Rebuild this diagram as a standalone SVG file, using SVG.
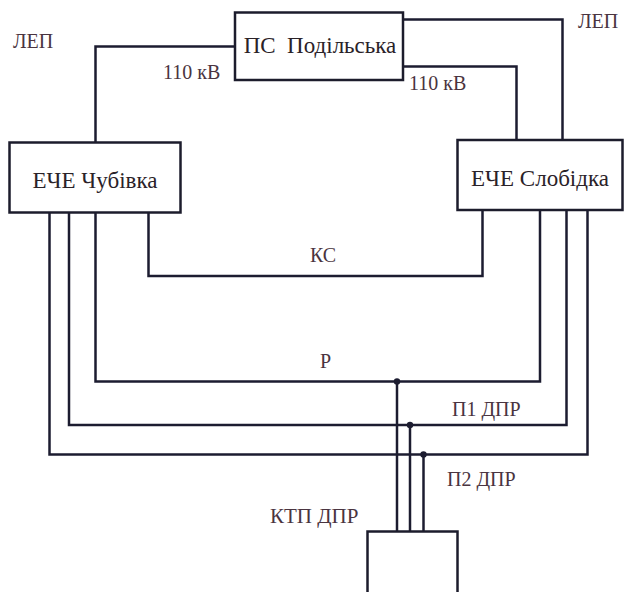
<svg xmlns="http://www.w3.org/2000/svg" width="624" height="592" viewBox="0 0 624 592">
<style>
.box{fill:#ffffff;stroke:#1c1c2c;stroke-width:2.5}
.ln{fill:none;stroke:#1c1c30;stroke-width:2.5;stroke-linejoin:miter}
.dot{fill:#1c1c30}
</style>
<rect x="0" y="0" width="624" height="592" fill="#ffffff"/>
<g id="connectors">
<path class="ln" d="M235,46.5 H95.5 V142.5"/>
<path class="ln" d="M403,19.5 H562.5 V140"/>
<path class="ln" d="M403,66.5 H516.5 V140"/>
<path class="ln" d="M148.5,212.5 V276 H482.5 V210"/>
<path class="ln" d="M95.5,212.5 V381.5 H540 V210"/>
<path class="ln" d="M69,212.5 V425 H566.5 V210"/>
<path class="ln" d="M49.5,212.5 V454.5 H587.5 V210"/>
<path class="ln" d="M397,381.5 V531.5"/>
<path class="ln" d="M410,425 V531.5"/>
<path class="ln" d="M423.5,454.5 V531.5"/>
<circle class="dot" cx="397" cy="381.5" r="3.2"/>
<circle class="dot" cx="410" cy="425" r="3.2"/>
<circle class="dot" cx="423.5" cy="454.5" r="3.2"/>
</g>
<g id="labels">
<text x="13" y="48" font-family="Liberation Serif" font-size="20" fill="#4a3440">ЛЕП</text>
<text x="163" y="79" font-family="Liberation Serif" font-size="20" fill="#4a3440">110 кВ</text>
<text x="578" y="28" font-family="Liberation Serif" font-size="20" fill="#4a3440">ЛЕП</text>
<text x="409" y="90" font-family="Liberation Serif" font-size="20" fill="#4a3440">110 кВ</text>
<text x="310" y="262" font-family="Liberation Serif" font-size="20" fill="#4a3440">КС</text>
<text x="320" y="368" font-family="Liberation Serif" font-size="20" fill="#4a3440">Р</text>
<text x="452" y="416" font-family="Liberation Serif" font-size="20" fill="#4a3440">П1 ДПР</text>
<text x="447" y="486" font-family="Liberation Serif" font-size="20" fill="#4a3440">П2 ДПР</text>
<text x="270" y="523" font-family="Liberation Serif" font-size="21" fill="#4a3440">КТП ДПР</text>
</g>
<g id="ps-podilska">
<rect class="box" x="235" y="12.5" width="168" height="67.5"/>
<text x="320" y="53" font-family="Liberation Serif" font-size="23" fill="#2a2228" text-anchor="middle">ПС&#160; Подільська</text>
</g>
<g id="eche-chubivka">
<rect class="box" x="9.5" y="142.5" width="171" height="70"/>
<text x="95" y="188" font-family="Liberation Serif" font-size="23" fill="#2a2228" text-anchor="middle">ЕЧЕ Чубівка</text>
</g>
<g id="eche-slobidka">
<rect class="box" x="457.5" y="140" width="165" height="70"/>
<text x="540" y="186" font-family="Liberation Serif" font-size="23" fill="#2a2228" text-anchor="middle">ЕЧЕ Слобідка</text>
</g>
<g id="ktp-dpr">
<rect class="box" x="367.5" y="531.5" width="90" height="70"/>
</g>
</svg>
